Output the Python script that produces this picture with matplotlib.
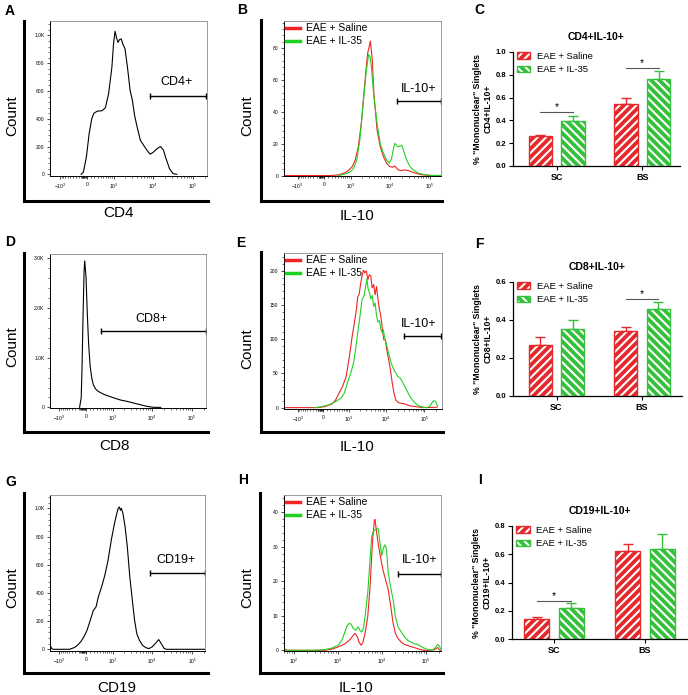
import matplotlib
matplotlib.use('Agg')
import matplotlib.pyplot as plt
from matplotlib.lines import Line2D
from matplotlib.patches import Patch
from matplotlib.ticker import AutoMinorLocator
import numpy as np

plt.rcParams['font.family'] = ['Liberation Sans', 'DejaVu Sans']
plt.rcParams['mathtext.fontset'] = 'custom'
plt.rcParams['mathtext.rm'] = 'Liberation Sans'
plt.rcParams['hatch.linewidth'] = 1.5

W, H = 688, 695
LINE_RED = '#f02424'
LINE_GREEN = '#22d022'
BAR_RED = '#e4292c'
BAR_GREEN = '#34c03a'

# ---- flow histograms (x = fluorescence intensity, y = count) ----
cd4_x = [-150, -90, -10, 60, 130, 190, 290, 450, 580, 725, 900, 1000, 1100, 1200, 1320, 1450,
         1600, 1750, 2000, 2320, 2700, 3080, 3500, 4070, 4900, 5900, 7100, 8600, 10400, 12800,
         15700, 18500, 21400, 26300, 32300, 40000]
cd4_y = [0, 15, 125, 290, 400, 440, 455, 458, 480, 580, 770, 940, 1030, 985, 950, 970,
         975, 940, 905, 770, 605, 535, 425, 340, 245, 210, 175, 145, 160, 185,
         200, 175, 115, 40, 5, 0]

il10_cd4_saline_x = [-2300, 200, 420, 710, 890, 1100, 1320, 1590, 1900, 2290, 2750, 3250, 3630, 3980,
                     4790, 5750, 6920, 8320, 10000, 12200, 13400, 16300, 19800, 24000, 29200, 39200,
                     58000, 104000, 194000]
il10_cd4_saline_y = [0, 0, 0.4, 1.9, 3.5, 5.6, 9.8, 18.1, 32.7, 55.6, 76.5, 84.4, 72.3, 51.5,
                     28.5, 18.1, 11.9, 7.7, 5.6, 5.2, 6.0, 3.5, 3.1, 3.5, 3.1, 1.9,
                     0.6, 0, 0]
il10_cd4_il35_x = [420, 710, 1000, 1200, 1450, 1740, 2090, 2510, 2910, 3190, 3440, 3980, 4790, 5750,
                   6920, 8320, 9640, 11000, 12200, 13400, 15700, 17900, 20200, 22700, 26500, 32200,
                   39200, 52500, 77600, 126000, 194000]
il10_cd4_il35_y = [0, 1.0, 2.5, 4.6, 9.8, 22.3, 43.1, 64, 76, 74.4, 68.1, 49.4, 32.7, 20.2,
                   14, 9.8, 7.7, 10.2, 16, 20.2, 18.1, 18.5, 18.9, 15, 9.8, 5.6,
                   3.5, 1.5, 0.4, 0, 0]

cd8_x = [-170, -126, -101, -75, -49, -33, 0, 33, 67, 109, 153, 196, 263, 343, 456, 584, 810,
         1100, 1620, 2370, 3480, 5110, 7500, 11100, 16600]
cd8_y = [0, 188, 891, 1900, 2760, 2950, 2640, 1900, 1300, 824, 590, 456, 369, 322, 288, 255, 221,
         188, 147, 121, 87, 54, 20, 0, 0]

il10_cd8_saline_x = [-2400, -145, 47, 248, 364, 491, 647, 830, 1040, 1240, 1430, 1610, 1760, 1930,
                     2110, 2300, 2510, 2740, 3000, 3280, 3580, 3910, 4270, 4670, 5100, 5570, 6090,
                     6650, 7270, 7940, 8670, 9480, 10400, 11600, 12900, 14400, 16000, 17900, 20800,
                     24700, 30600, 42300, 58300, 89800, 212000]
il10_cd8_saline_y = [0, 0, 1.5, 5.4, 11.2, 21, 31, 45, 75, 104, 124, 142, 162, 166,
                     181, 192, 201, 197, 200, 187, 194, 193, 175, 180, 165, 177, 158,
                     143, 133, 114, 99, 99, 84, 70, 55, 36, 21, 11, 7.3,
                     6.4, 5.4, 2.4, 1.5, 0, 0.5]
il10_cd8_il35_x = [-248, -47, 145, 364, 568, 731, 932, 1130, 1350, 1530, 1760, 2030, 2300, 2600,
                   2900, 3100, 3330, 3580, 3910, 4270, 4670, 5100, 5570, 6090, 6650, 7270, 7940,
                   8380, 8990, 10000, 11600, 13500, 16000, 19900, 23600, 27500, 34100, 42300,
                   52500, 65000, 80700, 111000, 138000, 154000, 179000, 199000, 222000]
il10_cd8_il35_y = [0, 1.5, 3.9, 8.8, 13.7, 21, 38, 50, 65, 84, 109, 134, 158, 163,
                   178, 188, 174, 169, 159, 164, 148, 153, 134, 125, 127, 114, 109,
                   114, 104, 94, 79, 65, 55, 46, 43, 36, 26, 16,
                   8.8, 3.9, 1.5, 0, 1.5, 6.4, 10.3, 8.8, 1.5]

cd19_x = [-1760, -1600, -1450, -1190, -793, -503, -332, -234, -145, -58, 24, 109, 196, 272, 343,
          456, 584, 729, 900, 1100, 1270, 1390, 1500, 1585, 1675, 1840, 2090, 2380, 2750, 3190,
          3630, 4130, 4790, 5750, 6920, 8320, 10000, 12300, 14600, 16900, 20000, 23100, 35100,
          208000]
cd19_y = [36, 5, 0, 0, 0, 0, 12, 28, 52, 88, 135, 206, 277, 301, 372,
          443, 526, 630, 773, 891, 962, 1002, 1009, 986, 1000, 965, 869, 727, 514, 348,
          206, 111, 64, 28, 12, 5, 17, 45, 69, 40, 5, 0, 0,
          0]

il10_cd19_saline_x = [60, 70, 120, 250, 500, 720, 1035, 1470, 1900, 2270, 2480, 2800, 3050, 3390,
                      3700, 4180, 4810, 5430, 6140, 6810, 7050, 7690, 8390, 9660, 10900, 12300,
                      14100, 16100, 18200, 20500, 23500, 27800, 33000, 42700, 55100, 71200, 91900,
                      129000, 158000, 188000, 208000, 223000]
il10_cd19_saline_y = [0.5, 0, 0, 0, 0, 0.3, 1.0, 1.9, 3.1, 4.4, 4.9, 3.9, 2.4, 1.5,
                      2.1, 4.9, 9.7, 18.4, 31, 37.7, 37.9, 34, 30.6, 26.2, 22.8, 20.4,
                      17.5, 12.6, 7.8, 4.9, 3.4, 2.4, 1.7, 1.2, 0.8, 0.3, 0,
                      0, 0.2, 0.8, 0, 0]
il10_cd19_il35_x = [60, 120, 290, 500, 720, 1035, 1230, 1420, 1600, 1810, 2010, 2270, 2560, 2850,
                    3220, 3510, 3830, 4180, 4810, 5430, 5930, 6470, 7310, 7980, 8390, 9160, 10000,
                    10900, 11900, 12900, 14100, 15900, 18200, 20500, 23500, 27800, 33000, 39100,
                    46400, 55100, 65300, 77400, 100000, 141000, 167000, 188000, 205000, 223000]
il10_cd19_il35_y = [0, 0, 0, 0.2, 0.6, 1.5, 2.9, 4.9, 6.8, 7.8, 7.6, 6.3, 5.8, 6.8,
                    5.8, 5.3, 6.3, 9.7, 16.5, 26.2, 33, 34.5, 35, 35.4, 35, 31, 27.5,
                    29.6, 30.6, 29.1, 22.3, 18.4, 14.6, 9.7, 6.8, 5.3, 3.9, 2.9,
                    2.4, 1.9, 1.7, 1.2, 0.4, 0, 0.8, 1.7, 1.2, 0.2]

# ---- bar charts: % "mononuclear" singlets, mean and SEM ----
groups = ['SC', 'BS']
cd4_saline = [0.262, 0.544]
cd4_saline_err = [0.014, 0.056]
cd4_il35 = [0.397, 0.765]
cd4_il35_err = [0.044, 0.07]
cd4_sig = [(0, 0.47), (1, 0.86)]

cd8_saline = [0.268, 0.344]
cd8_saline_err = [0.041, 0.021]
cd8_il35 = [0.351, 0.459]
cd8_il35_err = [0.048, 0.035]
cd8_sig = [(1, 0.51)]

cd19_saline = [0.139, 0.621]
cd19_saline_err = [0.014, 0.054]
cd19_il35 = [0.221, 0.64]
cd19_il35_err = [0.031, 0.101]
cd19_sig = [(0, 0.27)]

legend_labels = ['EAE + Saline', 'EAE + IL-35']

fig = plt.figure(figsize=(W / 100, H / 100), dpi=100)


def box(l, t, r, b):
    return [l / W, 1 - b / H, (r - l) / W, (b - t) / H]


def ftext(x, y, s, **kw):
    fig.text(x / W, 1 - y / H, s, **kw)


asinh_ticks = [-1000, 0, 1000, 10000, 100000]
asinh_labels = ['$-10^3$', '0', '$10^3$', '$10^4$', '$10^5$']
asinh_minor = ([-v for v in range(100, 1000, 100)] + list(range(-150, 1, 15)) + list(range(100, 1000, 100))
               + list(range(2000, 10000, 1000)) + list(range(20000, 100000, 10000)) + [200000])


def flow_panel(outer, inner, curves, xlim, ylim, yticks, ylabels, gate, gate_txt,
               xlab, xlab_pos, count_pos, logx=False, legend=False):
    axo = fig.add_axes(box(*outer))
    axo.set_xticks([])
    axo.set_yticks([])
    axo.patch.set_alpha(0)
    for s in ['top', 'right']:
        axo.spines[s].set_visible(False)
    for s in ['left', 'bottom']:
        axo.spines[s].set_linewidth(2.2)

    ax = fig.add_axes(box(*inner))
    for xs, ys, col in curves:
        ax.plot(xs, ys, color=col, lw=0.8)
    if logx:
        ax.set_xscale('log')
        ax.set_xticks([100, 1000, 10000, 100000], ['$10^2$', '$10^3$', '$10^4$', '$10^5$'])
        minors = [m * 10 ** e for e in range(1, 6) for m in range(2, 10)]
        ax.set_xticks(minors, minor=True)
        ax.xaxis.set_minor_formatter(plt.NullFormatter())
    else:
        ax.set_xscale('asinh', linear_width=450)
        ax.set_xticks(asinh_ticks, asinh_labels)
        ax.set_xticks(asinh_minor, minor=True)
        ax.xaxis.set_minor_formatter(plt.NullFormatter())
    ax.set_xlim(*xlim)
    ax.set_ylim(*ylim)
    ax.set_yticks(yticks, ylabels)
    ax.yaxis.set_minor_locator(AutoMinorLocator(5))
    ax.tick_params(which='major', length=2.5, width=0.5, labelsize=3.6, pad=1.5)
    ax.tick_params(which='minor', length=1.3, width=0.4)
    for s in ['top', 'right']:
        ax.spines[s].set_color('#8a8a8a')
        ax.spines[s].set_linewidth(0.6)
    for s in ['left', 'bottom']:
        ax.spines[s].set_linewidth(0.7)

    x1, x2, gy = gate
    ax.plot([x1, x2], [gy, gy], color='k', lw=1.0)
    ax.plot([x1, x2], [gy, gy], ls='none', marker='|', ms=5, mew=1.0, color='k')
    ax.text(gate_txt[0], gate_txt[1], gate_txt[2], ha='center', va='center', fontsize=9)

    if legend:
        handles = [Line2D([], [], color=LINE_RED, lw=2.5), Line2D([], [], color=LINE_GREEN, lw=2.5)]
        ax.legend(handles, legend_labels, loc='upper left', bbox_to_anchor=(0.015, 0.985),
                  frameon=False, fontsize=7.5, handlelength=1.35, handletextpad=0.5,
                  labelspacing=0.3, borderpad=0, borderaxespad=0)

    ftext(xlab_pos[0], xlab_pos[1], xlab, ha='center', va='center', fontsize=11)
    ftext(count_pos[0], count_pos[1], 'Count', ha='center', va='center', fontsize=11, rotation=90)
    return ax


OFF = 0.19
BW = 0.27


def bar_panel(rect, title, ylab, ymax, sal, sal_err, il, il_err, sig, xlim):
    ax = fig.add_axes(box(*rect))
    x = np.arange(len(groups))
    for off, vals, errs, col, hat in ((-OFF, sal, sal_err, BAR_RED, '////'),
                                      (OFF, il, il_err, BAR_GREEN, '\\\\\\\\')):
        ax.errorbar(x + off, vals, yerr=[[0] * len(errs), errs], fmt='none', ecolor=col,
                    elinewidth=1.0, capsize=3.5, capthick=1.0, zorder=1)
        ax.bar(x + off, vals, BW, color=col, edgecolor='white', hatch=hat, linewidth=0, zorder=2)
        ax.bar(x + off, vals, BW, fill=False, edgecolor=col, linewidth=1.0, zorder=3)
    for gi, yv in sig:
        ax.plot([gi - OFF, gi + OFF], [yv, yv], color='#555555', lw=0.8)
        ax.text(gi, yv, '*', ha='center', va='bottom', fontsize=7.5)
    ax.set_xlim(*xlim)
    ax.set_ylim(0, ymax)
    ax.set_xticks(x, groups, fontsize=6.5, fontweight='bold')
    yt = np.arange(0, ymax + 0.001, 0.2)
    ax.set_yticks(yt, ['%.1f' % v for v in yt], fontsize=5.5, fontweight='bold')
    ax.tick_params(length=3, width=0.8, pad=2)
    for s in ['top', 'right']:
        ax.spines[s].set_visible(False)
    for s in ['left', 'bottom']:
        ax.spines[s].set_linewidth(0.9)
    ax.set_title(title, fontsize=7.5, fontweight='bold', pad=9)
    ax.set_ylabel(ylab, fontsize=6.3, fontweight='bold', linespacing=1.3, labelpad=2)
    handles = [(Patch(fc=BAR_RED, ec='white', hatch='////', lw=0), Patch(fill=False, ec=BAR_RED, lw=1)),
               (Patch(fc=BAR_GREEN, ec='white', hatch='\\\\\\\\', lw=0), Patch(fill=False, ec=BAR_GREEN, lw=1))]
    ax.legend(handles, legend_labels, loc='upper left', bbox_to_anchor=(0.025, 1.0), frameon=False,
              fontsize=6.8, handlelength=1.4, handleheight=0.7, handletextpad=0.7,
              labelspacing=0.45, borderpad=0, borderaxespad=0)
    return ax


# row 1
flow_panel((24, 21, 208, 201), (50, 21, 207, 176), [(cd4_x, cd4_y, 'k')],
           (-1840, 227000), (-12, 1104), [0, 200, 400, 600, 800, 1000],
           ['0', '200', '400', '600', '800', '1.0K'], (8300, 214000, 564), (40000, 665, 'CD4+'),
           'CD4', (118, 213), (12, 116))
flow_panel((261, 20, 442, 201), (284, 21, 441, 176),
           [(il10_cd4_saline_x, il10_cd4_saline_y, LINE_RED), (il10_cd4_il35_x, il10_cd4_il35_y, LINE_GREEN)],
           (-2280, 194000), (-0.3, 97), [0, 20, 40, 60, 80], ['0', '20', '40', '60', '80'],
           (14800, 194000, 46.7), (52500, 54.6, 'IL-10+'), 'IL-10', (357, 216), (247, 116), legend=True)
bar_panel((513, 52, 680, 166), 'CD4+IL-10+', '% "Mononuclear" Singlets\nCD4+IL-10+', 1.0,
          cd4_saline, cd4_saline_err, cd4_il35, cd4_il35_err, cd4_sig, (-0.51, 1.44))

# row 2
flow_panel((24, 253, 208, 432), (50, 254, 206, 408), [(cd8_x, cd8_y, 'k')],
           (-1760, 226000), (-13, 3090), [0, 1000, 2000, 3000], ['0', '1.0K', '2.0K', '3.0K'],
           (456, 221000, 1541), (10000, 1776, 'CD8+'), 'CD8', (115, 446), (12, 347))
flow_panel((261, 252, 443, 432), (284, 253, 442, 409),
           [(il10_cd8_saline_x, il10_cd8_saline_y, LINE_RED), (il10_cd8_il35_x, il10_cd8_il35_y, LINE_GREEN)],
           (-2400, 290000), (-2, 226), [0, 50, 100, 150, 200], ['0', '50', '100', '150', '200'],
           (28700, 275000, 104), (72400, 122, 'IL-10+'), 'IL-10', (357, 447), (247, 349), legend=True)
bar_panel((513, 282, 682, 396), 'CD8+IL-10+', '% "Mononuclear" Singlets\nCD8+IL-10+', 0.6,
          cd8_saline, cd8_saline_err, cd8_il35, cd8_il35_err, cd8_sig, (-0.51, 1.47))

# row 3
flow_panel((24, 493, 208, 673), (50, 495, 205, 651), [(cd19_x, cd19_y, 'k')],
           (-1760, 208000), (-12, 1095), [0, 200, 400, 600, 800, 1000],
           ['0', '200', '400', '600', '800', '1.0K'], (8630, 208000, 538), (39000, 633, 'CD19+'),
           'CD19', (117, 688), (12, 588))
flow_panel((260, 493, 443, 673), (284, 495, 441, 651),
           [(il10_cd19_saline_x, il10_cd19_saline_y, LINE_RED), (il10_cd19_il35_x, il10_cd19_il35_y, LINE_GREEN)],
           (60, 223000), (-0.2, 45), [0, 10, 20, 30, 40], ['0', '10', '20', '30', '40'],
           (23450, 223000, 22.1), (71200, 26.2, 'IL-10+'), 'IL-10', (356, 688), (247, 588),
           logx=True, legend=True)
bar_panel((512, 526, 687, 639), 'CD19+IL-10+', '% "Mononuclear" Singlets\nCD19+IL-10+', 0.8,
          cd19_saline, cd19_saline_err, cd19_il35, cd19_il35_err, cd19_sig, (-0.46, 1.46))

# panel letters
for letter, px, py in [('A', 10, 11), ('B', 242, 10), ('C', 479, 10),
                       ('D', 10, 242), ('E', 241, 243), ('F', 479, 244),
                       ('G', 11, 482), ('H', 243, 480), ('I', 480, 480)]:
    ftext(px, py, letter, ha='center', va='center', fontsize=10, fontweight='bold')

fig.savefig('out.png', dpi=100)
